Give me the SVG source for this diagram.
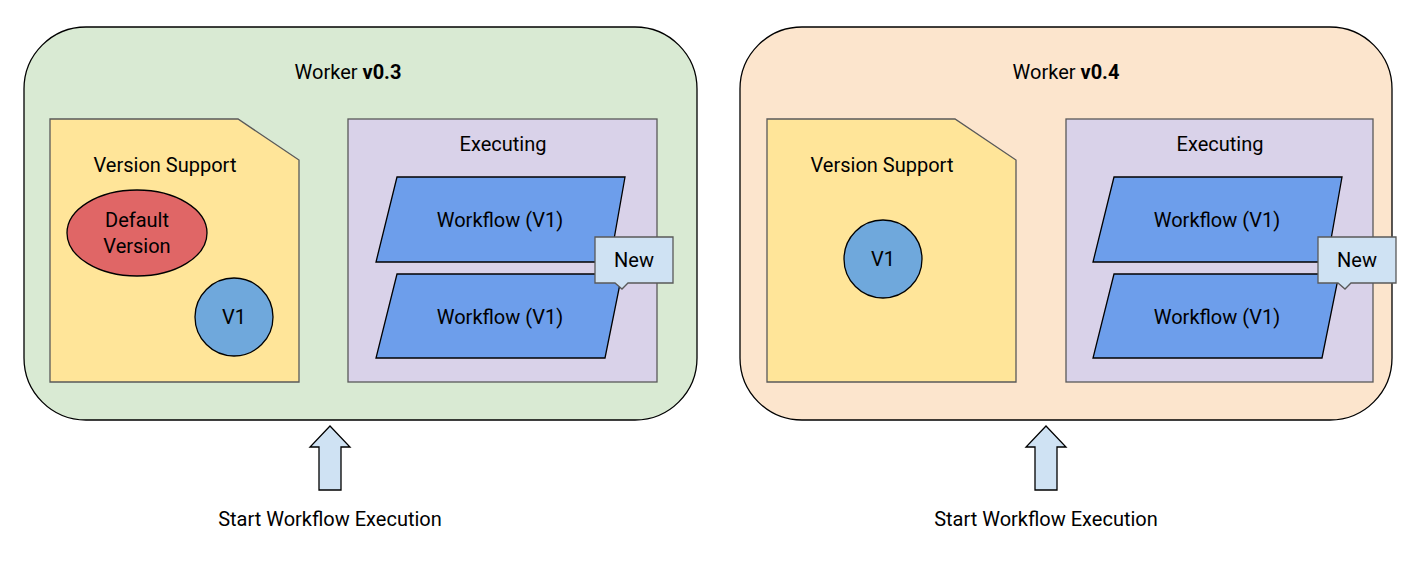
<svg xmlns="http://www.w3.org/2000/svg" width="1410" height="567" viewBox="0 0 1410 567">
<style>
text{font-family:Roboto,"Liberation Sans",sans-serif;font-size:20px;fill:#000;text-anchor:middle}
.s{stroke:#000;stroke-width:1.3}
.doc{fill:#ffe599;stroke:#595959;stroke-width:1.3}
.ex{fill:#d9d2e9;stroke:#595959;stroke-width:1.3}
.wf{fill:#6d9eeb;stroke:#000;stroke-width:1.3}
.v1{fill:#6fa8dc;stroke:#000;stroke-width:1.3}
.call{fill:#cfe2f3;stroke:#595959;stroke-width:1.3}
.arr{fill:#cfe2f3;stroke:#000;stroke-width:1.3}
</style>
<g id="worker03">
<rect x="24" y="27" width="673" height="393" rx="62" fill="#d9ead3" class="s"/>
<text x="348" y="79">Worker <tspan font-weight="bold">v0.3</tspan></text>
</g>
<g id="worker04">
<rect x="740" y="27" width="652" height="393" rx="62" fill="#fce5cd" class="s"/>
<text x="1066" y="79">Worker <tspan font-weight="bold">v0.4</tspan></text>
</g>
<g id="vs03">
<path d="M50 119H238L299 160V382H50Z" class="doc"/>
<text x="165" y="172">Version Support</text>
</g>
<g id="default03">
<ellipse cx="137" cy="233" rx="70" ry="43" fill="#e06666" class="s"/>
<text x="137" y="227">Default</text>
<text x="137" y="253">Version</text>
</g>
<g id="v1a">
<circle cx="234" cy="317" r="39" class="v1"/>
<text x="234" y="324">V1</text>
</g>
<g id="exec03">
<rect x="348" y="119" width="309" height="263" class="ex"/>
<text x="503" y="151">Executing</text>
</g>
<g id="wf03a"><path d="M397 177H625L610 262H376Z" class="wf"/><text x="500" y="227">Workflow (V1)</text></g>
<g id="wf03b"><path d="M397 274H622L605 358H376Z" class="wf"/><text x="500" y="324">Workflow (V1)</text></g>
<g id="new03"><path d="M595 237H673V283H628L622 289L615 283H595Z" class="call"/><text x="634" y="267">New</text></g>
<g id="vs04">
<path d="M767 119H955L1016 160V382H767Z" class="doc"/>
<text x="882" y="172">Version Support</text>
</g>
<g id="v1b">
<circle cx="883" cy="259" r="39" class="v1"/>
<text x="883" y="266">V1</text>
</g>
<g id="exec04">
<rect x="1066" y="119" width="307" height="263" class="ex"/>
<text x="1220" y="151">Executing</text>
</g>
<g id="wf04a"><path d="M1114 177H1342L1327 262H1093Z" class="wf"/><text x="1217" y="227">Workflow (V1)</text></g>
<g id="wf04b"><path d="M1114 274H1339L1322 358H1093Z" class="wf"/><text x="1217" y="324">Workflow (V1)</text></g>
<g id="new04"><path d="M1318 237H1396V283H1351L1345 289L1338 283H1318Z" class="call"/><text x="1357" y="267">New</text></g>
<g id="connectors">
<path d="M330 426L350 447H341V490H319V447H310Z" class="arr"/>
<path d="M1046 426L1066 447H1057V490H1035V447H1026Z" class="arr"/>
</g>
<g id="start03"><text x="330" y="526">Start Workflow Execution</text></g>
<g id="start04"><text x="1046" y="526">Start Workflow Execution</text></g>
</svg>
